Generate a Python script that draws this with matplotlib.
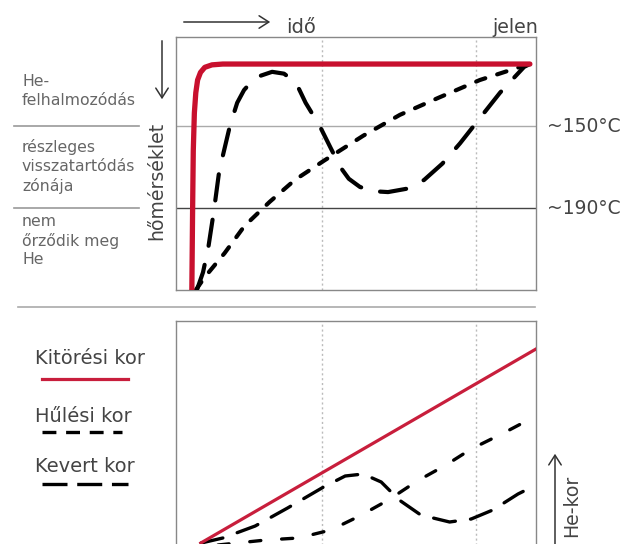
import numpy as np
import matplotlib
matplotlib.use('Agg')
import matplotlib.pyplot as plt
from matplotlib.lines import Line2D
from matplotlib.patches import FancyArrowPatch

plt.rcParams['font.family'] = ['DejaVu Sans']
plt.rcParams['lines.scale_dashes'] = False

W, H = 628, 544

# --- top panel: time (fraction of span) vs temperature (deg C, downward) ---
red_t = [0.044, 0.046, 0.048, 0.051, 0.055, 0.06, 0.068, 0.08, 0.1, 0.13, 0.983]
red_T = [230, 193, 162.1, 143.6, 133.7, 127.5, 123.8, 121.3, 120.1, 119.7, 119.7]

cool_t = [0.055, 0.08, 0.135, 0.19, 0.26, 0.33, 0.41, 0.52, 0.622, 0.73, 0.844, 0.956, 0.983]
cool_T = [230, 223.7, 212.0, 198.8, 187.0, 176.3, 167.0, 154.7, 144.5, 136.1, 127.5, 121.1, 119.7]

mix_t = [0.058, 0.075, 0.09, 0.105, 0.12, 0.135, 0.15, 0.17, 0.189, 0.22, 0.267, 0.3,
         0.333, 0.36, 0.4, 0.43, 0.456, 0.48, 0.511, 0.55, 0.589, 0.64, 0.689, 0.74,
         0.789, 0.85, 0.9, 0.967, 0.983]
mix_T = [230, 221.4, 209.0, 191.7, 172.0, 160.8, 149.7, 138.6, 132.4, 126.3, 123.5, 124.4,
         128.7, 138.6, 150.2, 160.8, 169.9, 175.7, 179.7, 181.8, 182.2, 180.6, 176.3, 168.3,
         158.4, 144.8, 133.7, 121.1, 119.7]

temp_lines = [150, 190]
temp_labels = ['~150°C', '~190°C']
time_grid = [0.405, 0.832]

zone_labels = ['He-\nfelhalmozódás', 'részleges\nvisszatartódás\nzónája', 'nem\nőrződik meg\nHe']

# --- bottom panel: time vs He age (arbitrary units) ---
red_age_t = [0.069, 1.0]
red_age = [37, 231]

cool_age_t = [0.09, 0.25, 0.34, 0.43, 0.51, 0.59, 0.67, 0.75, 0.82, 0.91, 1.0]
cool_age = [34, 40, 42, 50, 64, 80, 99, 115, 131, 147, 164]

mix_age_t = [0.07, 0.13, 0.22, 0.31, 0.41, 0.47, 0.52, 0.57, 0.62, 0.68, 0.76, 0.82, 0.88, 0.95, 1.0]
mix_age = [37, 42, 54, 72, 93, 104, 106, 98, 80, 65, 58, 61, 70, 86, 95]

legend_labels = ['Kitörési kor', 'Hűlési kor', 'Kevert kor']

RED = '#c8102e'
RED2 = '#c81e3c'
TXT = '#444444'
GREY = '#999999'


def fx(x):
    return x / W


def fy(y):
    return 1 - y / H


fig = plt.figure(figsize=(W / 100, H / 100), dpi=100)

# top axes
ax1 = fig.add_axes([fx(176), fy(290), 360 / W, 253 / H])
ax1.set_xlim(0, 1)
ax1.set_ylim(230, 106.5)
ax1.set_xticks([])
ax1.set_yticks([])
for s in ax1.spines.values():
    s.set_color('#888888')
    s.set_linewidth(1)
for t in time_grid:
    ax1.axvline(t, color='#bbbbbb', lw=1, ls=(0, (1.5, 2)), zorder=1)
ax1.axhline(temp_lines[0], color='#aaaaaa', lw=1, zorder=1)
ax1.axhline(temp_lines[1], color='#444444', lw=1, zorder=1)

ax1.plot(mix_t, mix_T, color='black', lw=3, ls=(0, (19, 14)), dash_capstyle='round', zorder=3)
ax1.plot(cool_t, cool_T, color='black', lw=3, ls=(0, (7, 9)), dash_capstyle='round', zorder=3)
ax1.plot(red_t, red_T, color=RED, lw=3.8, solid_capstyle='round',
         solid_joinstyle='round', zorder=4)

for T, lab in zip(temp_lines, temp_labels):
    ax1.text(1.03, T, lab, transform=ax1.get_yaxis_transform(), ha='left', va='center',
             fontsize=13.5, color=TXT)

# bottom axes (runs off the bottom of the figure)
ax2 = fig.add_axes([fx(176), fy(580), 360 / W, 259 / H])
ax2.set_xlim(0, 1)
ax2.set_ylim(0, 259)
ax2.set_xticks([])
ax2.set_yticks([])
for s in ax2.spines.values():
    s.set_color('#888888')
    s.set_linewidth(1)
for t in time_grid:
    ax2.axvline(t, color='#bbbbbb', lw=1, ls=(0, (1.5, 2)), zorder=1)

ax2.plot(red_age_t, red_age, color=RED2, lw=2.3, zorder=4)
ax2.plot(cool_age_t, cool_age, color='black', lw=2.4, ls=(0, (8, 15)), dash_capstyle='round',
         zorder=3)
ax2.plot(mix_age_t, mix_age, color='black', lw=2.4, ls=(0, (16, 11)), dash_capstyle='round',
         zorder=3)

# left zone labels and separators
for y, lab in zip([74, 139, 214], zone_labels):
    fig.text(fx(22), fy(y), lab, ha='left', va='top', fontsize=11.3, color='#666666',
             linespacing=1.3)
for y in [126, 208]:
    fig.add_artist(Line2D([fx(14), fx(139)], [fy(y), fy(y)], color=GREY, lw=1.2))
fig.add_artist(Line2D([fx(18), fx(535)], [fy(307), fy(307)], color='#aaaaaa', lw=1.2))

# axis captions with arrows
arrow_style = '->,head_length=0.5,head_width=0.32'
fig.add_artist(FancyArrowPatch((fx(181), fy(22)), (fx(273), fy(22)), transform=fig.transFigure,
                               arrowstyle=arrow_style, mutation_scale=14, color='#333333', lw=1.1))
fig.text(fx(286), fy(33), 'idő', ha='left', va='baseline', fontsize=14, color=TXT)
fig.text(fx(538), fy(33), 'jelen', ha='right', va='baseline', fontsize=13.7, color=TXT)

fig.add_artist(FancyArrowPatch((fx(162), fy(38)), (fx(162), fy(102)), transform=fig.transFigure,
                               arrowstyle=arrow_style, mutation_scale=14, color='#333333', lw=1.1))
fig.text(fx(157), fy(181), 'hőmérséklet', rotation=90, ha='center', va='center',
         fontsize=13.6, color=TXT)

fig.add_artist(FancyArrowPatch((fx(555), fy(548)), (fx(555), fy(451)), transform=fig.transFigure,
                               arrowstyle=arrow_style, mutation_scale=14, color='#333333', lw=1.1))
fig.text(fx(572), fy(506), 'He-kor', rotation=90, ha='center', va='center',
         fontsize=13.6, color=TXT)

# legend
fig.text(fx(35), fy(364), legend_labels[0], ha='left', va='baseline', fontsize=14, color=TXT)
fig.add_artist(Line2D([fx(42), fx(128)], [fy(379), fy(379)], color=RED2, lw=2.3))
fig.text(fx(35), fy(422), legend_labels[1], ha='left', va='baseline', fontsize=14, color=TXT)
fig.add_artist(Line2D([fx(42), fx(122)], [fy(432), fy(432)], color='black', lw=2.4,
                      ls=(0, (10, 7))))
fig.text(fx(35), fy(472), legend_labels[2], ha='left', va='baseline', fontsize=14, color=TXT)
fig.add_artist(Line2D([fx(42), fx(128)], [fy(484), fy(484)], color='black', lw=2.4,
                      ls=(0, (18, 7))))

fig.savefig('out.png', dpi=100)
